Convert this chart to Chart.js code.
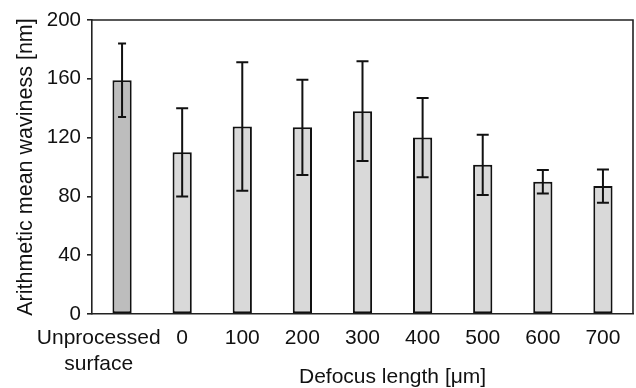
<!DOCTYPE html>
<html>
<head>
<meta charset="utf-8">
<script src="https://cdn.jsdelivr.net/npm/chart.js@4/dist/chart.umd.min.js"></script>
<style>
html,body{margin:0;padding:0;background:#fff;}
#wrap{width:636px;height:388px;position:relative;}
</style>
</head>
<body>
<div id="wrap"><canvas id="c" width="636" height="388"></canvas></div>
<script>
const NB = '\u00a0\u00a0\u00a0\u00a0\u00a0\u00a0\u00a0\u00a0';
const categories = [['Unprocessed' + NB, 'surface' + NB], '0', '100', '200', '300', '400', '500', '600', '700'];
const meanWaviness = [159, 110, 127.5, 127, 138, 120, 101.5, 90, 87];
const stdDev = [25, 30, 43.7, 32.4, 34, 27, 20.5, 8, 11.3];
const yTicks = [0, 40, 80, 120, 160, 200];
const yTitle = 'Arithmetic mean waviness [nm]';
const xTitle = 'Defocus length [\u03bcm]';

const FONT = '"Liberation Sans", Arial, Helvetica, sans-serif';
const INK = '#111';

const errorBars = {
  id: 'errorBars',
  afterDatasetsDraw(chart, args, opts) {
    const meta = chart.getDatasetMeta(0);
    const ys = chart.scales.y;
    const ctx = chart.ctx;
    ctx.save();
    ctx.strokeStyle = INK;
    ctx.lineWidth = 2;
    meta.data.forEach((bar, i) => {
      const x = bar.x;
      const hi = ys.getPixelForValue(meanWaviness[i] + stdDev[i]);
      const lo = ys.getPixelForValue(meanWaviness[i] - stdDev[i]);
      const hw = opts.capHalf[i];
      ctx.beginPath();
      ctx.moveTo(x, hi); ctx.lineTo(x, lo);
      ctx.moveTo(x - hw, hi); ctx.lineTo(x + hw, hi);
      ctx.moveTo(x - hw, lo); ctx.lineTo(x + hw, lo);
      ctx.stroke();
    });
    ctx.restore();
  }
};

const frame = {
  id: 'frame',
  afterDraw(chart) {
    const a = chart.chartArea;
    const ctx = chart.ctx;
    ctx.save();
    ctx.strokeStyle = '#222';
    ctx.lineWidth = 1.6;
    ctx.beginPath();
    ctx.moveTo(a.left, a.top); ctx.lineTo(a.right, a.top); ctx.lineTo(a.right, a.bottom);
    ctx.stroke();
    const xs = chart.scales.x;
    const cx = (xs.getPixelForValue(1) + xs.getPixelForValue(categories.length - 1)) / 2;
    ctx.fillStyle = INK;
    ctx.font = '21px ' + FONT;
    ctx.textAlign = 'center';
    ctx.textBaseline = 'alphabetic';
    ctx.fillText(xTitle, cx, 383);
    ctx.restore();
  }
};

new Chart(document.getElementById('c'), {
  type: 'bar',
  data: {
    labels: categories,
    datasets: [{
      data: meanWaviness,
      backgroundColor: meanWaviness.map((v, i) => i === 0 ? '#bdbdbd' : '#d9d9d9'),
      borderColor: INK,
      borderWidth: 2,
      borderSkipped: false,
      barPercentage: 0.32,
      categoryPercentage: 1
    }]
  },
  options: {
    responsive: false,
    animation: false,
    devicePixelRatio: 1,
    layout: { padding: { top: 20, right: 3, left: 0, bottom: 0 } },
    plugins: {
      legend: { display: false },
      tooltip: { enabled: false },
      errorBars: { capHalf: [4, 6, 6, 6, 6, 6, 6, 6, 6] }
    },
    scales: {
      x: {
        offset: true,
        grid: { display: true, drawOnChartArea: false, drawTicks: false },
        border: { display: true, color: '#222', width: 1.6 },
        ticks: { color: INK, font: { family: FONT, size: 21 }, padding: 12, maxRotation: 0, autoSkip: false },
        afterFit(s) { s.height = 74; }
      },
      y: {
        min: 0, max: 200,
        afterBuildTicks(s) { s.ticks = yTicks.map(v => ({ value: v })); },
        grid: { display: true, drawOnChartArea: false, drawTicks: true, tickLength: 5, color: '#222', lineWidth: 1.6 },
        border: { display: true, color: '#222', width: 1.6 },
        ticks: { color: INK, font: { family: FONT, size: 20.5 }, padding: 6 },
        title: { display: true, text: yTitle, color: INK, font: { family: FONT, size: 21.5 }, padding: { top: 13, bottom: 0 } },
        afterFit(s) { s.width = 92; }
      }
    }
  },
  plugins: [errorBars, frame]
});
</script>
</body>
</html>
